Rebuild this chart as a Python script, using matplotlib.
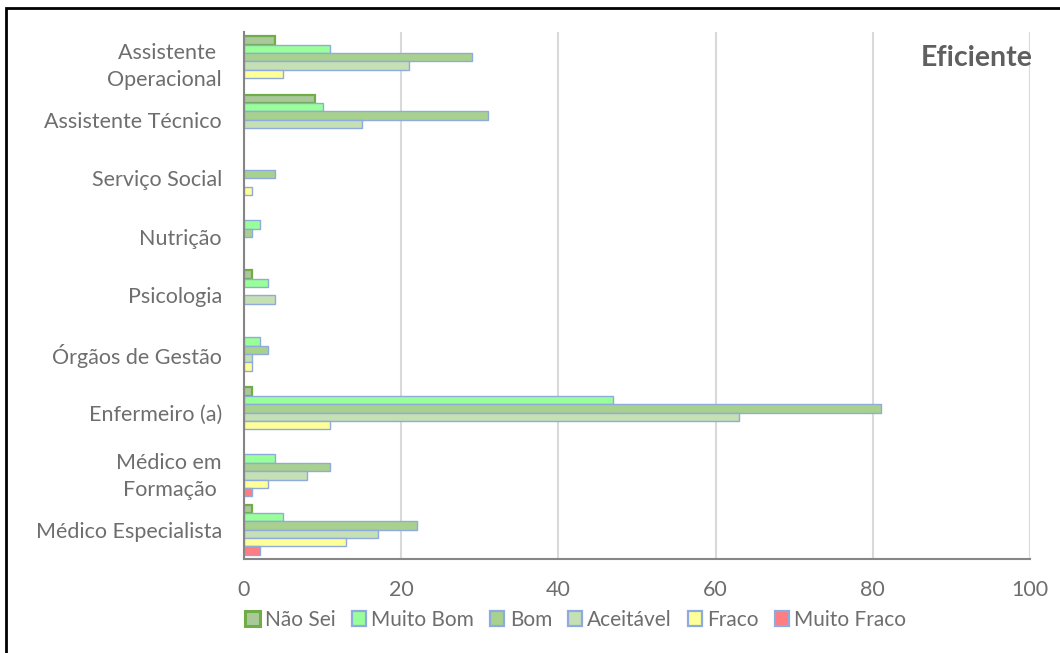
import numpy as np
import matplotlib.pyplot as plt
from matplotlib.patches import Rectangle, Patch

plt.rcParams['font.family'] = ['Lato', 'DejaVu Sans']

# categories listed bottom to top
categories = ['Médico Especialista', 'Médico em\nFormação ', 'Enfermeiro (a)',
              'Órgãos de Gestão', 'Psicologia', 'Nutrição', 'Serviço Social',
              'Assistente Técnico', 'Assistente \nOperacional']

series = ['Não Sei', 'Muito Bom', 'Bom', 'Aceitável', 'Fraco', 'Muito Fraco']

nao_sei     = [1, 0, 1, 0, 1, 0, 0, 9, 4]
muito_bom   = [5, 4, 47, 2, 3, 2, 0, 10, 11]
bom         = [22, 11, 81, 3, 0, 1, 4, 31, 29]
aceitavel   = [17, 8, 63, 1, 4, 0, 0, 15, 21]
fraco       = [13, 3, 11, 1, 0, 0, 1, 0, 5]
muito_fraco = [2, 1, 0, 0, 0, 0, 0, 0, 0]

values = [nao_sei, muito_bom, bom, aceitavel, fraco, muito_fraco]
fills = ['#a9c99a', '#99ff99', '#a9d18e', '#c5e0b4', '#ffff99', '#ff7c80']
edges = ['#70ad47', '#8faadc', '#8faadc', '#8faadc', '#8faadc', '#8faadc']
lws = [1.6, 1.0, 1.0, 1.0, 1.0, 1.0]

grey = '#6e6e6e'
fs = 15.5

fig = plt.figure(figsize=(10.6, 6.53), dpi=100)
ax = fig.add_axes([244 / 1060, 1 - 559 / 653, (1030 - 244) / 1060, (559 - 32) / 653])

y = np.arange(len(categories))
h = 0.143
n = len(series)
for i, (vals, fc, ec, lw) in enumerate(zip(values, fills, edges, lws)):
    # first series sits at the top of each group
    off = ((n - 1) / 2 - i) * h
    v = np.array(vals, dtype=float)
    mask = v > 0
    ax.barh(y[mask] + off, v[mask], height=h, color=fc, edgecolor=ec,
            linewidth=lw, zorder=3)

ax.set_xlim(0, 100)
ax.set_ylim(-0.5, len(categories) - 0.5)
ax.set_xticks(np.arange(0, 101, 20))
ax.set_yticks(y)
ax.set_yticklabels(categories, linespacing=1.45)
ax.tick_params(axis='both', length=0, labelsize=fs, labelcolor=grey)
ax.tick_params(axis='y', pad=16)
ax.tick_params(axis='x', pad=15)
ax.xaxis.grid(True, color='#d9d9d9', linewidth=1.5, zorder=0)
ax.set_axisbelow(True)
for s in ['top', 'right']:
    ax.spines[s].set_visible(False)
ax.spines['left'].set_color('#868686')
ax.spines['left'].set_linewidth(1.5)
ax.spines['bottom'].set_color('#868686')
ax.spines['bottom'].set_linewidth(1.5)
ax.spines['left'].set_zorder(4)

ax.text(1.003, 0.95, 'Eficiente', transform=ax.transAxes, ha='right', va='center',
        fontsize=20.5, fontweight='bold', color='#5f5f5f')

handles = [Patch(facecolor=fc, edgecolor=ec, linewidth=lw + 0.6)
           for fc, ec, lw in zip(fills, edges, lws)]
fig.legend(handles, series, loc='center', bbox_to_anchor=(576 / 1060, 1 - 620 / 653),
           ncol=6, frameon=False, fontsize=15, labelcolor=grey,
           handlelength=0.7, handleheight=0.7, handletextpad=0.25, columnspacing=0.75)

# outer chart border
fig.add_artist(Rectangle((6 / 1060, -0.1), 1.2, 1 - 8 / 653 + 0.1,
                         transform=fig.transFigure, fill=False,
                         edgecolor='black', linewidth=2))

fig.savefig('out.png', dpi=100)
